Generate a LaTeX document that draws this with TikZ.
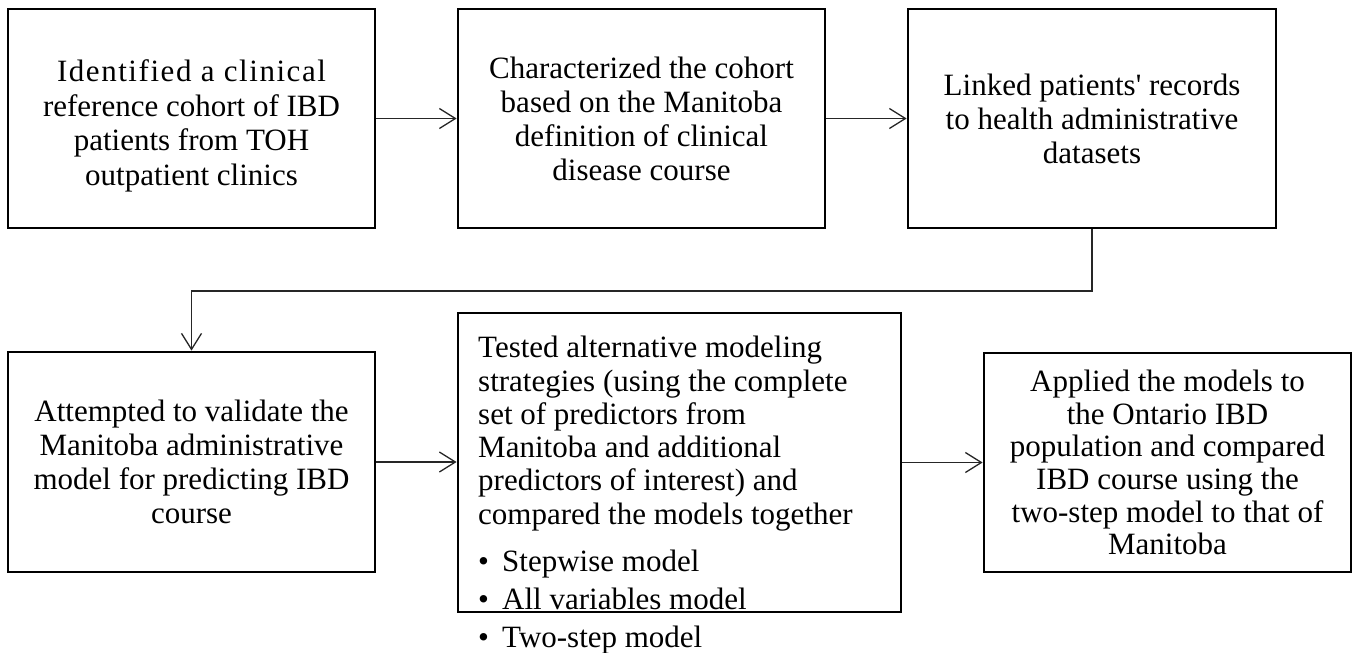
\documentclass[tikz,border=0pt]{standalone}
\usepackage{fontspec}
\setmainfont{Liberation Serif}[Ligatures=TeXOff]
\usetikzlibrary{arrows.meta}
\tikzset{
  stepbox/.style={draw=black, line width=2.8pt, rectangle, inner sep=0pt,
    align=center, font=\fontsize{31}{34}\selectfont},
  conn/.style={draw=black!85, line width=1.3pt,
    -{Straight Barb[length=16pt,width=20pt,line width=1.3pt]}},
}
\begin{document}
\begin{tikzpicture}[x=1pt,y=-1pt]
\useasboundingbox (0,0) rectangle (1353,653);
\node[stepbox, minimum width=367pt, minimum height=219pt] (b1) at (191.5,118.5) {};
\node[align=center, inner sep=0pt, font=\fontsize{31}{34.5}\selectfont] (b1text) at (191.5,126)
  {{\addfontfeature{LetterSpace=5}Identified a clinical}\\reference cohort of IBD\\patients from TOH\\outpatient clinics};
\node[stepbox, minimum width=367pt, minimum height=219pt] (b2) at (641.5,118.5)
  {Characterized the cohort\\based on the Manitoba\\definition of clinical\\disease course};
\node[stepbox, minimum width=368pt, minimum height=219pt] (b3) at (1092,118.5)
  {Linked patients' records\\to health administrative\\datasets};
\node[stepbox, minimum width=367pt, minimum height=220pt] (b4) at (191.5,462)
  {Attempted to validate the\\Manitoba administrative\\model for predicting IBD\\course};
\node[stepbox, minimum width=443pt, minimum height=299pt] (b5) at (679.5,462.5) {};
\node[anchor=north west, inner sep=0pt, align=left, font=\fontsize{31}{33.3}\selectfont] (b5text) at (478,336)
  {Tested alternative modeling\\
   strategies (using the complete\\
   set of predictors from\\
   Manitoba and additional\\
   predictors of interest) and\\
   compared the models together\\[13.7pt]
   \makebox[24pt][l]{\textbullet}Stepwise model\\[4.7pt]
   \makebox[24pt][l]{\textbullet}All variables model\\[4.7pt]
   \makebox[24pt][l]{\textbullet}Two-step model};
\node[stepbox, minimum width=367pt, minimum height=219pt, font=\fontsize{31}{32.7}\selectfont] (b6) at (1167.5,462.5)
  {Applied the models to\\the Ontario IBD\\population and compared\\IBD course using the\\two-step model to that of\\Manitoba};
\coordinate (elbow) at (0,291);
\draw[conn] (b1.east) -- (b1.east -| b2.west);
\draw[conn] (b2.east) -- (b2.east -| b3.west);
\draw[conn] (b3.south) -- (b3.south |- elbow) -- (b4.north |- elbow) -- (b4.north);
\draw[conn] (b4.east) -- (b4.east -| b5.west);
\draw[conn] (b5.east |- b6.west) -- (b6.west);
\end{tikzpicture}
\end{document}
